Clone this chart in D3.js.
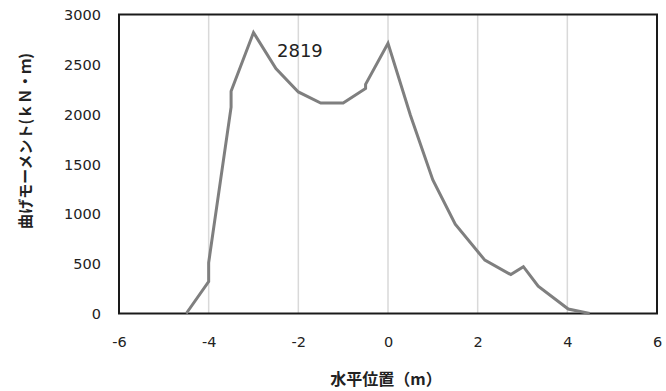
<!DOCTYPE html>
<html><head><meta charset="utf-8">
<script src="https://cdn.jsdelivr.net/npm/d3@7"></script>
<style>body{margin:0;background:#fff}svg{display:block}</style>
</head><body>
<script>
const xPos = [-4.5, -4, -4, -3.5, -3.5, -3, -2.5, -2, -1.5, -1, -0.5, -0.5, 0, 0.5, 1, 1.5, 2.16, 2.74, 3.02, 3.35, 4.02, 4.5];
const moment = [0, 320, 510, 2070, 2230, 2819, 2457, 2223, 2112, 2112, 2257, 2300, 2710, 1990, 1340, 896, 535, 390, 470, 274, 45, 0];
const xTicks = [-6, -4, -2, 0, 2, 4, 6];
const yTicks = [0, 500, 1000, 1500, 2000, 2500, 3000];
const gridX = [-4, -2, 0, 2, 4];
const peakLabel = "2819";
const xTitle = "水平位置（m）";
const yTitle = "曲げモーメント(ｋＮ・ｍ)";

const W = 666, H = 391;
const svg = d3.select("body").append("svg").attr("width", W).attr("height", H);
const L = 119, R = 657, T = 14.5, B = 313.5;
const x = d3.scaleLinear().domain([-6, 6]).range([L, R]);
const y = d3.scaleLinear().domain([0, 3000]).range([B, T]);
const font = "'DejaVu Sans', sans-serif";

svg.append("g").selectAll("line").data(gridX).join("line")
  .attr("x1", d => x(d)).attr("x2", d => x(d)).attr("y1", T).attr("y2", B)
  .attr("stroke", "#d9d9d9").attr("stroke-width", 1.5);

svg.append("rect").attr("x", L).attr("y", T).attr("width", R - L).attr("height", B - T)
  .attr("fill", "none").attr("stroke", "#1a1a1a").attr("stroke-width", 2);

const xAxis = d3.axisBottom(x).tickValues(xTicks).tickSize(0).tickPadding(0).tickFormat(d => String(d));
const gx = svg.append("g").attr("transform", `translate(0,${B})`).call(xAxis);
gx.select(".domain").remove();
gx.selectAll("text").attr("y", 28).attr("dy", "0.35em").attr("font-family", font).attr("font-size", 14.5).attr("fill", "#222");

const yAxis = d3.axisLeft(y).tickValues(yTicks).tickSize(0).tickPadding(0).tickFormat(d => String(d));
const gy = svg.append("g").attr("transform", `translate(${L},0)`).call(yAxis);
gy.select(".domain").remove();
gy.selectAll("text").attr("x", -18).attr("dy", "0.35em").attr("font-family", font).attr("font-size", 14.5).attr("fill", "#222");

const pts = xPos.map((v, i) => [v, moment[i]]);
svg.append("path").datum(pts)
  .attr("d", d3.line().x(d => x(d[0])).y(d => y(d[1])))
  .attr("fill", "none").attr("stroke", "#7f7f7f").attr("stroke-width", 3).attr("stroke-linejoin", "miter");

svg.append("text").attr("x", 277).attr("y", 57).text(peakLabel)
  .attr("font-family", font).attr("font-size", 18).attr("fill", "#222");

svg.append("text").attr("x", 386).attr("y", 385).attr("text-anchor", "middle").text(xTitle)
  .attr("font-family", "'Noto Sans CJK JP', sans-serif").attr("font-weight", "bold").attr("font-size", 16).attr("fill", "#222");

svg.append("text").attr("transform", "translate(31,141) rotate(-90)").attr("text-anchor", "middle").text(yTitle)
  .attr("font-family", "'Noto Sans CJK JP', sans-serif").attr("font-weight", "bold").attr("font-size", 15).attr("fill", "#222");
</script>
</body></html>
